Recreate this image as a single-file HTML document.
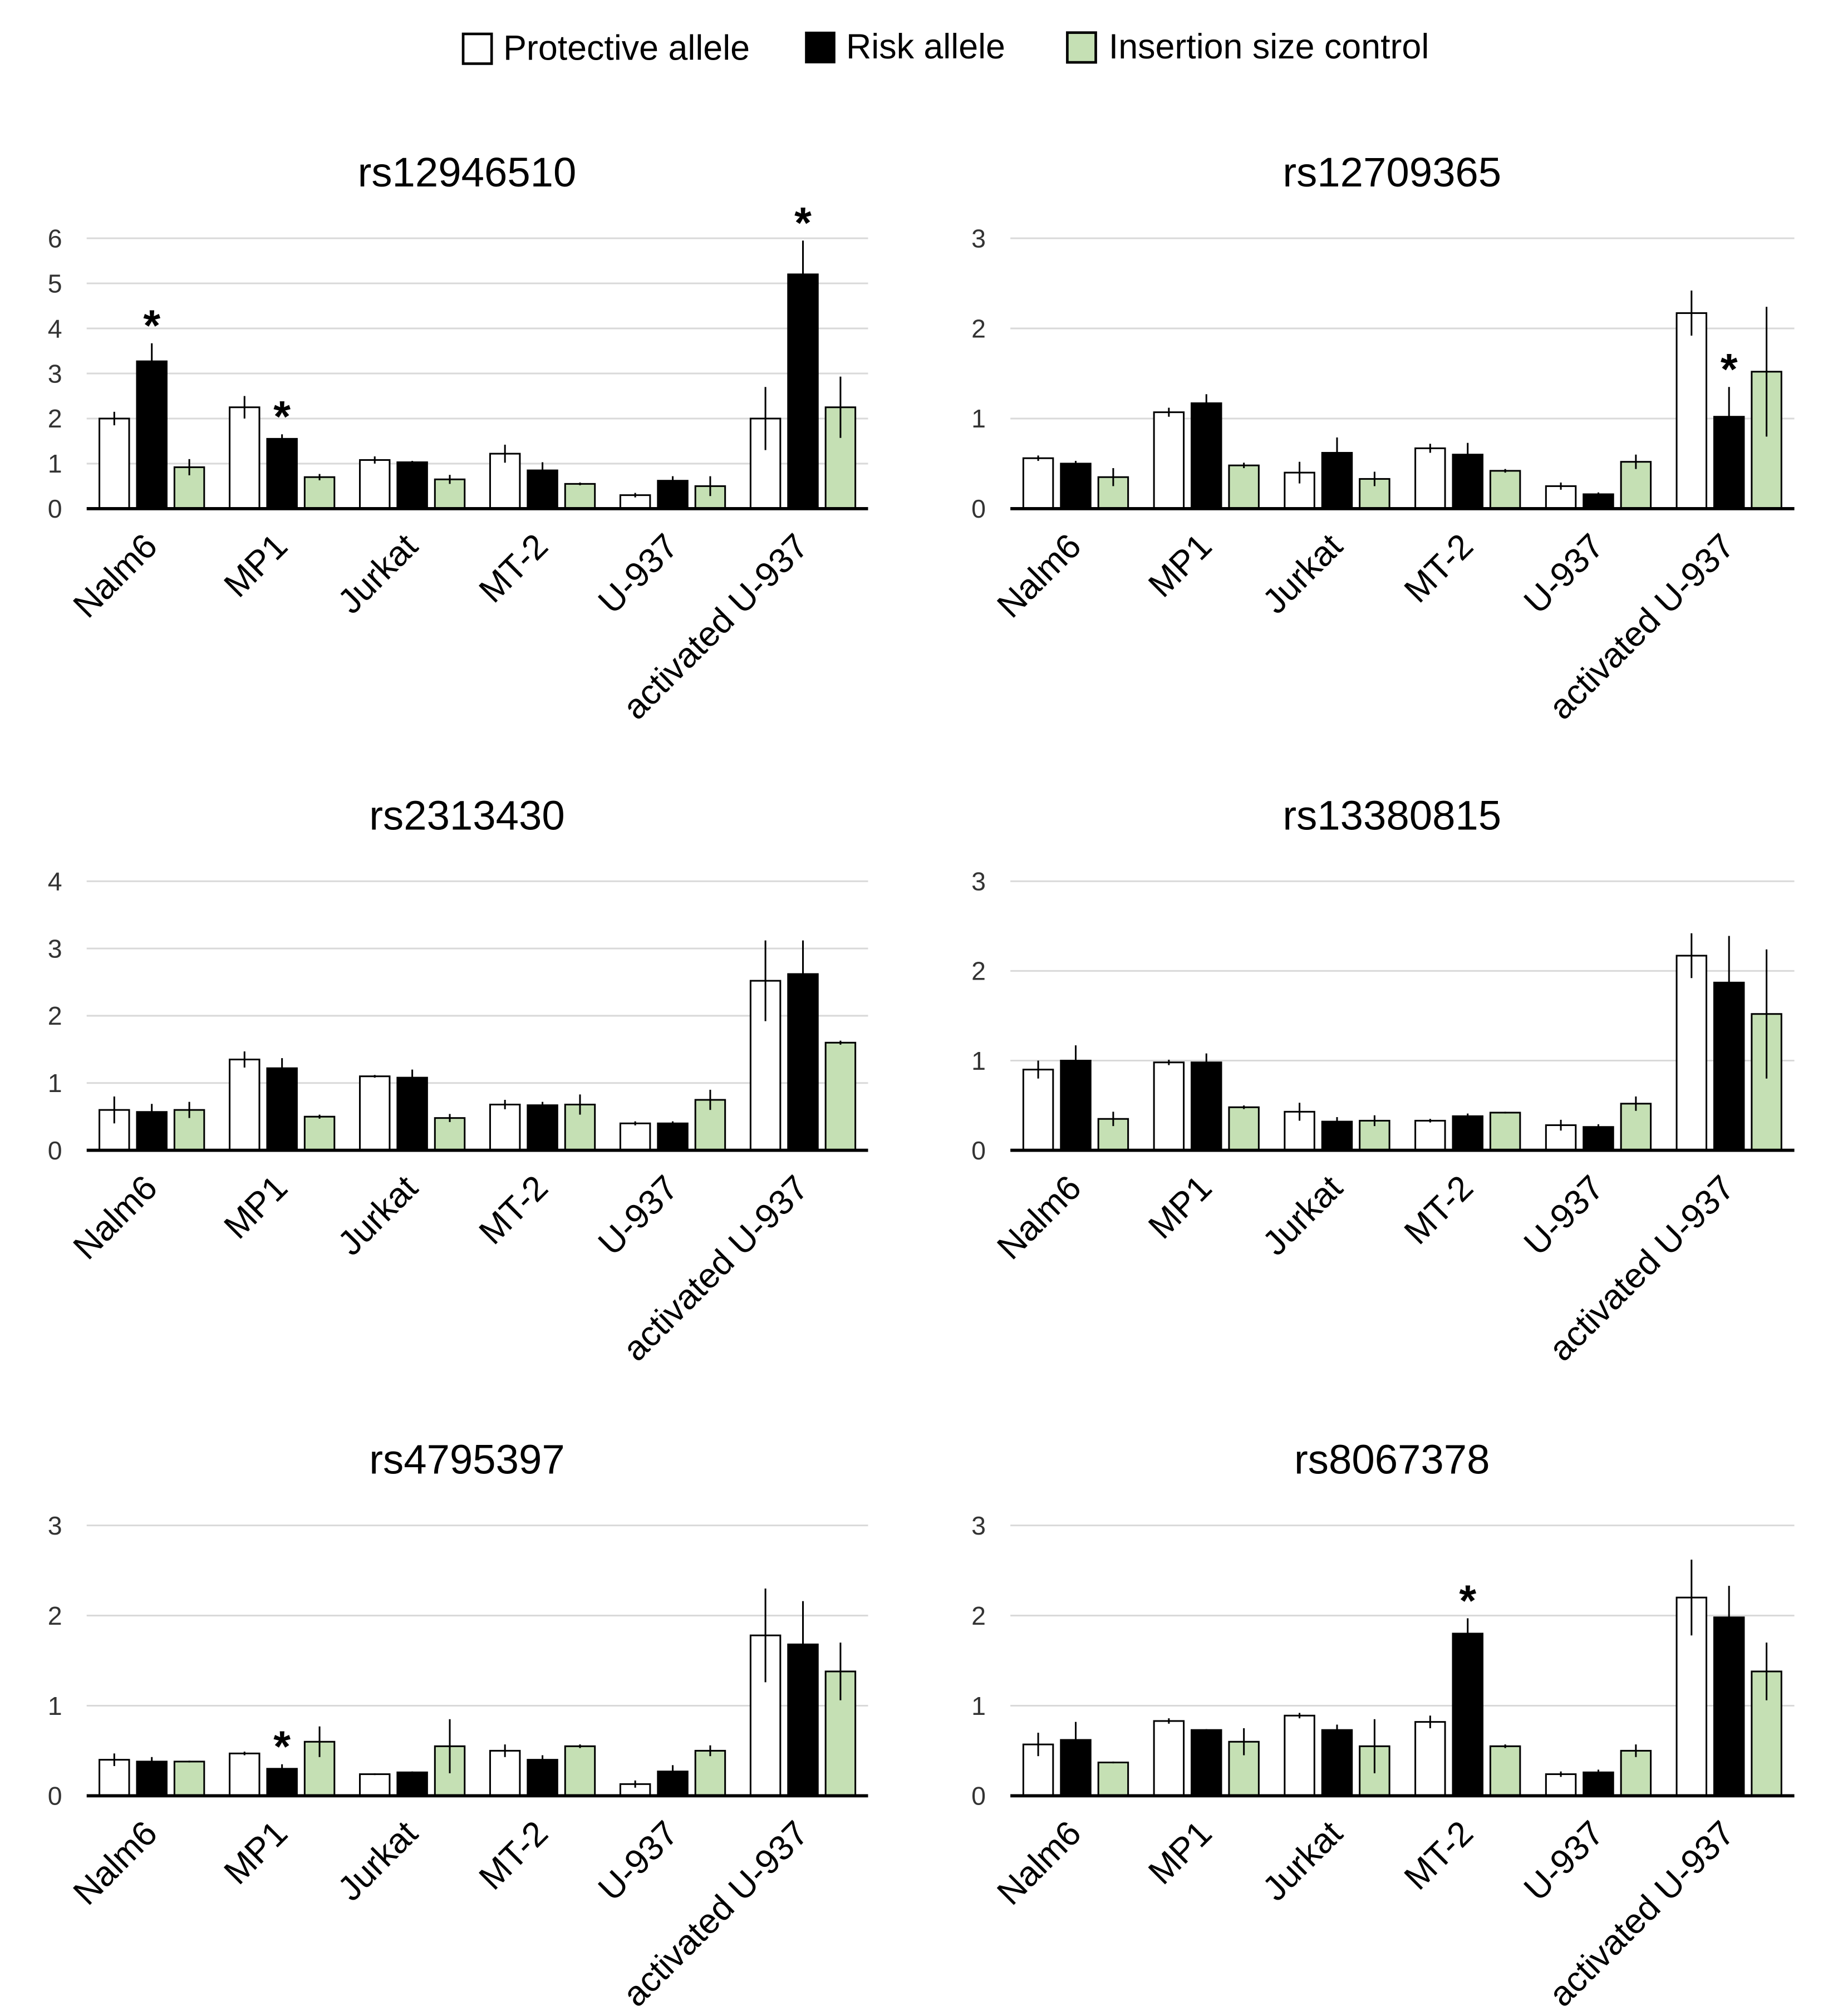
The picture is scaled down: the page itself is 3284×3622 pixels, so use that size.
<!DOCTYPE html>
<html><head><meta charset="utf-8"><style>
html,body{margin:0;padding:0;background:#fff}
svg{display:block}
text{font-family:"Liberation Sans",Arial,sans-serif}
</style></head><body>
<svg id="fig" xmlns="http://www.w3.org/2000/svg" width="3284" height="3622" viewBox="0 0 1413 1558">
<g id="legend">
<g><rect x="358" y="26" width="22" height="23" fill="#fff" stroke="#000" stroke-width="2"/><text x="389" y="46" font-size="27">Protective allele</text></g>
<g><rect x="623" y="25" width="22" height="23" fill="#000" stroke="#000" stroke-width="1.5"/><text x="654" y="45" font-size="27">Risk allele</text></g>
<g><rect x="825" y="25" width="22" height="23" fill="#c5e0b4" stroke="#000" stroke-width="2"/><text x="857" y="45" font-size="27">Insertion size control</text></g>
</g>
</svg>
<script>
const categories=["Nalm6","MP1","Jurkat","MT-2","U-937","activated U-937"];
const titles=["rs12946510","rs12709365","rs2313430","rs13380815","rs4795397","rs8067378"];
const yMax=[6,3,4,3,3,3];
const protVals=[[2.0,2.25,1.08,1.22,0.3,2.0],[0.56,1.07,0.4,0.67,0.25,2.17],[0.6,1.35,1.1,0.68,0.4,2.52],[0.9,0.98,0.43,0.33,0.28,2.17],[0.4,0.47,0.24,0.5,0.13,1.78],[0.57,0.83,0.89,0.82,0.24,2.2]];
const protErr=[[0.15,0.25,0.08,0.2,0.05,0.7],[0.03,0.05,0.12,0.05,0.04,0.25],[0.2,0.12,0.02,0.07,0.03,0.6],[0.1,0.03,0.1,0.02,0.06,0.25],[0.07,0.02,0.01,0.07,0.04,0.52],[0.13,0.03,0.03,0.07,0.03,0.42]];
const riskVals=[[3.27,1.55,1.03,0.85,0.62,5.2],[0.5,1.17,0.62,0.6,0.16,1.02],[0.57,1.22,1.08,0.67,0.4,2.62],[1.0,0.98,0.32,0.38,0.26,1.87],[0.38,0.3,0.26,0.4,0.27,1.68],[0.62,0.73,0.73,1.8,0.26,1.98]];
const riskErr=[[0.4,0.1,0.03,0.18,0.1,0.75],[0.03,0.1,0.17,0.13,0.02,0.33],[0.12,0.15,0.12,0.05,0.03,0.5],[0.17,0.1,0.05,0.03,0.03,0.52],[0.05,0.05,0.01,0.05,0.07,0.48],[0.2,0.01,0.06,0.17,0.03,0.35]];
const ctrlVals=[[0.92,0.7,0.65,0.55,0.5,2.25],[0.35,0.48,0.33,0.42,0.52,1.52],[0.6,0.5,0.48,0.68,0.75,1.6],[0.35,0.48,0.33,0.42,0.52,1.52],[0.38,0.6,0.55,0.55,0.5,1.38],[0.37,0.6,0.55,0.55,0.5,1.38]];
const ctrlErr=[[0.18,0.07,0.1,0.03,0.22,0.68],[0.1,0.03,0.08,0.02,0.08,0.72],[0.12,0.03,0.06,0.15,0.15,0.03],[0.08,0.02,0.06,0.01,0.08,0.72],[0.01,0.17,0.3,0.02,0.06,0.32],[0.01,0.15,0.3,0.02,0.07,0.32]];
const stars=[[0,1,5],[5],[],[],[1],[3]]; // risk-allele category indices marked significant
const NS="http://www.w3.org/2000/svg";
const svg=document.getElementById('fig');
function mk(t,a,p){const e=document.createElementNS(NS,t);for(const k in a)e.setAttribute(k,a[k]);p.appendChild(e);return e;}
const panelX=[[67,671],[781,1387]];
const panelY=[[184,393],[681,889],[1179,1388]];
const series=[{v:protVals,e:protErr,fill:"#fff",name:"protective"},{v:riskVals,e:riskErr,fill:"#000",name:"risk"},{v:ctrlVals,e:ctrlErr,fill:"#c5e0b4",name:"control"}];
for(let p=0;p<6;p++){
  const col=p%2,row=Math.floor(p/2);
  const [x0,x1]=panelX[col],[yt,yb]=panelY[row];
  const g=mk('g',{},svg);
  
  
  const yS=v=>yb-(v/yMax[p])*(yb-yt);
  const gw=(x1-x0)/categories.length;
  const t=mk('text',{x:(x0+x1)/2-8,y:yt-40,'font-size':32,'text-anchor':'middle'},g);t.textContent=titles[p];
  
  
  for(let k=0;k<=yMax[p];k++){
    const y=yS(k);
    if(k>0){const gl=mk('line',{x1:x0,x2:x1,y1:y,y2:y,stroke:'#d9d9d9','stroke-width':1.3},g);
      
      }
    const tl=mk('text',{x:x0-19,y:y+7,'font-size':20,'text-anchor':'end',fill:'#333'},g);tl.textContent=k;
    
    
  }
  categories.forEach((c,i)=>{
    const cx=x0+gw*(i+0.5);
    series.forEach((s,j)=>{
      const v=s.v[p][i],er=s.e[p][i];
      const bx=cx-11.5+(j-1)*29;
      const r=mk('rect',{x:bx,y:yS(v),width:23,height:yb-yS(v),fill:s.fill,stroke:'#000','stroke-width':1.3},g);
      
      
      const el=mk('line',{x1:bx+11.5,x2:bx+11.5,y1:yS(v+er),y2:yS(Math.max(0,v-er)),stroke:'#000','stroke-width':1.3},g);
      
      
      if(j===1&&stars[p].includes(i)){
        const st=mk('text',{x:bx+11.5,y:yS(v+er)-2,'font-size':34,'text-anchor':'middle','font-weight':'bold'},g);st.textContent='*';
        
        
      }
    });
    const lx=cx-8,ly=yb+17;
    const cl=mk('text',{x:lx,y:ly,'font-size':27,'text-anchor':'end',transform:`rotate(-45 ${lx} ${ly})`,dy:'0.72em'},g);cl.textContent=c;
    
    
  });
  const ax=mk('line',{x1:x0,x2:x1,y1:yb,y2:yb,stroke:'#000','stroke-width':2.5},g);
  
  
}
</script>
</body></html>
